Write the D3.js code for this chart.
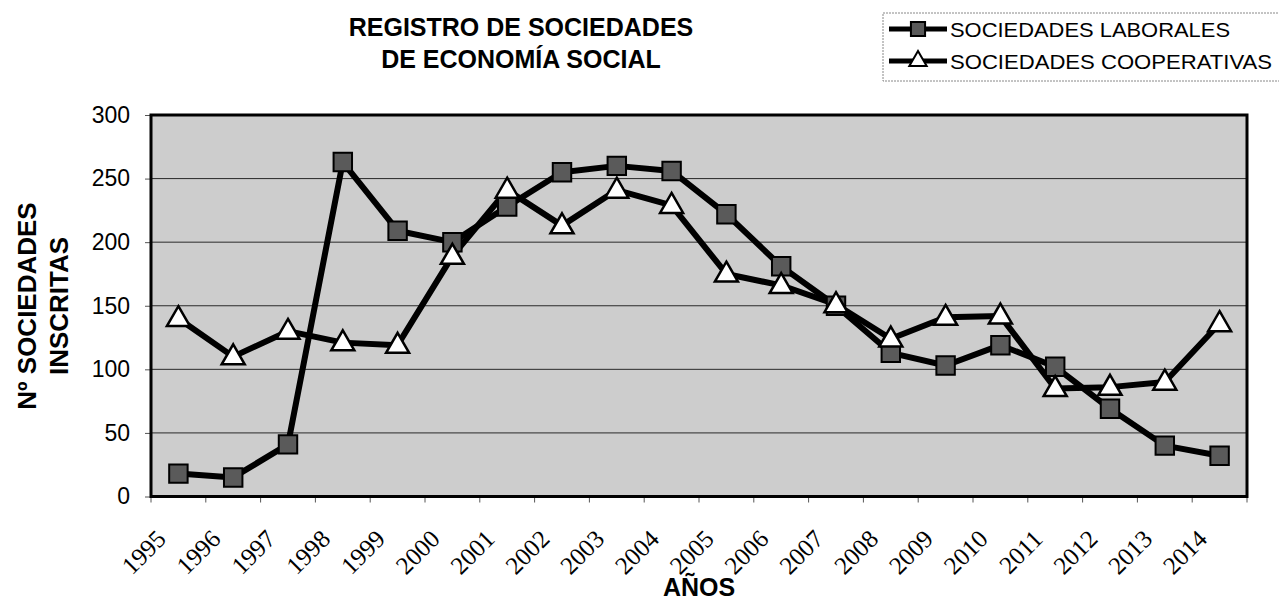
<html>
<head>
<meta charset="utf-8">
<title>Registro de Sociedades de Economía Social</title>
<style>
  body { margin: 0; background: #fff; }
  svg { display: block; }
</style>
</head>
<body>
<div id="chart"></div>
<script src="https://d3js.org/d3.v7.min.js"></script>
<script>

// data
var years = ["1995","1996","1997","1998","1999","2000","2001","2002","2003","2004",
             "2005","2006","2007","2008","2009","2010","2011","2012","2013","2014"];
var laborales    = [18, 15, 41, 263, 209, 200, 228, 255, 260, 256, 222, 181, 150, 113, 103, 119, 102, 69, 40, 32];
var cooperativas = [140, 110, 130, 121, 119, 189, 241, 213, 241, 229, 175, 166, 151, 124, 141, 142, 85, 86, 90, 136];
var yTicks = [0, 50, 100, 150, 200, 250, 300];

var W = 1279, H = 603;
var plot = { left: 151, right: 1247, top: 115, bottom: 496.5 };
var sans = "Liberation Sans, Arial, sans-serif";

var svg = d3.select("#chart").append("svg")
    .attr("width", W).attr("height", H);

var x = d3.scaleBand().domain(years).range([plot.left, plot.right]).padding(0);
var y = d3.scaleLinear().domain([0, 300]).range([plot.bottom, plot.top]);
var cx = function(d, i) { return x(years[i]) + x.bandwidth() / 2; };

// plot background
svg.append("rect")
    .attr("x", plot.left).attr("y", plot.top)
    .attr("width", plot.right - plot.left).attr("height", plot.bottom - plot.top)
    .attr("fill", "#cdcdcd");

// gridlines
svg.append("g").selectAll("line")
    .data(yTicks.slice(1, -1))
    .enter().append("line")
    .attr("x1", plot.left).attr("x2", plot.right)
    .attr("y1", function(d) { return y(d); }).attr("y2", function(d) { return y(d); })
    .attr("stroke", "#2a2a2a").attr("stroke-width", 1);

// y axis
var yAxis = svg.append("g")
    .attr("transform", "translate(" + plot.left + ",0)")
    .call(d3.axisLeft(y).tickValues(yTicks).tickSize(6).tickPadding(15));
yAxis.select(".domain").remove();
yAxis.selectAll("line").attr("stroke", "#555");
yAxis.selectAll("text")
    .attr("font-family", sans)
    .attr("font-size", 23).attr("fill", "#000");

// x axis ticks at band edges
var xAxis = svg.append("g")
    .attr("transform", "translate(0," + plot.bottom + ")");
xAxis.selectAll("line")
    .data(years.concat(["end"]))
    .enter().append("line")
    .attr("x1", function(d, i) { return plot.left + i * x.bandwidth(); })
    .attr("x2", function(d, i) { return plot.left + i * x.bandwidth(); })
    .attr("y1", 0).attr("y2", 6)
    .attr("stroke", "#555");
xAxis.selectAll("text")
    .data(years)
    .enter().append("text")
    .attr("transform", function(d) {
        return "translate(" + (x(d) + x.bandwidth() / 2 - 11) + ",44) rotate(-45)";
    })
    .attr("text-anchor", "end")
    .attr("font-family", "Liberation Serif, Times New Roman, serif")
    .attr("font-size", 25)
    .text(function(d) { return d; });

// frame
svg.append("rect")
    .attr("x", plot.left).attr("y", plot.top)
    .attr("width", plot.right - plot.left).attr("height", plot.bottom - plot.top)
    .attr("fill", "none").attr("stroke", "#000").attr("stroke-width", 3);

// lines
var line = d3.line()
    .x(function(d, i) { return cx(d, i); })
    .y(function(d) { return y(d); });

[laborales, cooperativas].forEach(function(series) {
    svg.append("path").datum(series)
        .attr("d", line).attr("fill", "none")
        .attr("stroke", "#000").attr("stroke-width", 6).attr("stroke-linejoin", "round");
});

var square = d3.symbol().type(d3.symbolSquare).size(340);
var triangle = d3.symbol().type(d3.symbolTriangle).size(230);

svg.append("g").selectAll("path")
    .data(laborales)
    .enter().append("path")
    .attr("d", square)
    .attr("transform", function(d, i) { return "translate(" + cx(d, i) + "," + y(d) + ")"; })
    .attr("fill", "#5a5a5a").attr("stroke", "#000").attr("stroke-width", 2);

svg.append("g").selectAll("path")
    .data(cooperativas)
    .enter().append("path")
    .attr("d", triangle)
    .attr("transform", function(d, i) { return "translate(" + cx(d, i) + "," + (y(d) + 1) + ")"; })
    .attr("fill", "#fff").attr("stroke", "#000").attr("stroke-width", 2.5);

// title
var title = svg.append("text")
    .attr("text-anchor", "middle")
    .attr("font-family", sans)
    .attr("font-weight", "bold").attr("font-size", 25);
title.append("tspan").attr("x", 521).attr("y", 36).text("REGISTRO DE SOCIEDADES");
title.append("tspan").attr("x", 521).attr("y", 68).text("DE ECONOMÍA SOCIAL");

// axis titles
var yTitle = svg.append("text")
    .attr("transform", "translate(0,306) rotate(-90)")
    .attr("text-anchor", "middle")
    .attr("font-family", sans)
    .attr("font-weight", "bold").attr("font-size", 26);
yTitle.append("tspan").attr("x", 0).attr("y", 36).text("Nº SOCIEDADES");
yTitle.append("tspan").attr("x", 0).attr("y", 68).text("INSCRITAS");

svg.append("text")
    .attr("x", (plot.left + plot.right) / 2).attr("y", 596)
    .attr("text-anchor", "middle")
    .attr("font-family", sans)
    .attr("font-weight", "bold").attr("font-size", 25)
    .text("AÑOS");

// legend
var legend = svg.append("g");
legend.append("rect")
    .attr("x", 883).attr("y", 13).attr("width", 400).attr("height", 68)
    .attr("fill", "#fff").attr("stroke", "#888").attr("stroke-width", 1)
    .attr("stroke-dasharray", "2,1");

var legendItems = [
    { name: "SOCIEDADES LABORALES", sym: d3.symbolSquare, size: 200, fill: "#5a5a5a", y: 29, len: 280 },
    { name: "SOCIEDADES COOPERATIVAS", sym: d3.symbolTriangle, size: 130, fill: "#fff", y: 61, len: 322 }
];
legendItems.forEach(function(it) {
    legend.append("line")
        .attr("x1", 889).attr("x2", 947).attr("y1", it.y).attr("y2", it.y)
        .attr("stroke", "#000").attr("stroke-width", 5);
    legend.append("path")
        .attr("d", d3.symbol().type(it.sym).size(it.size)())
        .attr("transform", "translate(918," + it.y + ")")
        .attr("fill", it.fill).attr("stroke", "#000").attr("stroke-width", 2);
    legend.append("text")
        .attr("x", 950).attr("y", it.y + 8)
        .attr("font-family", sans)
        .attr("font-size", 21)
        .attr("textLength", it.len).attr("lengthAdjust", "spacingAndGlyphs")
        .text(it.name);
});

</script>
</body>
</html>
